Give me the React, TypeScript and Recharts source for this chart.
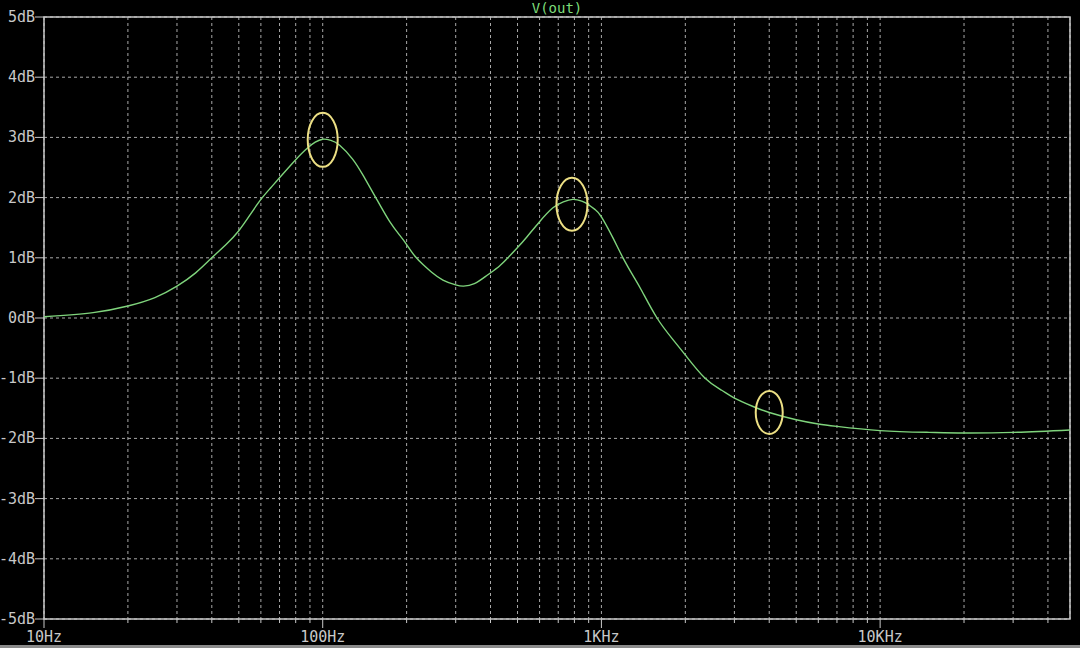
import { LineChart, Line, XAxis, YAxis, CartesianGrid, ReferenceArea, ReferenceDot } from "recharts"

// frequency response (Hz, dB)
const freqHz = [
  10, 15, 20, 25, 30, 35, 40, 45, 50, 55, 60, 65, 70, 80, 88, 94,
  100, 107, 115, 128, 140, 155, 174, 190, 200, 214, 230, 246, 270, 300, 320, 350,
  389, 430, 462, 500, 541, 600, 670, 730, 790, 850, 900, 950,
  1000, 1100, 1195, 1300, 1400, 1583, 1800, 2012, 2355, 2700, 3000, 3500,
  4000, 5000, 6000, 7000, 10000, 15000, 20000, 30000, 48000,
]
const gainDb = [
  0.02, 0.09, 0.2, 0.34, 0.53, 0.75, 1.0, 1.22, 1.45, 1.72, 1.97, 2.16, 2.33, 2.63, 2.82, 2.92,
  2.97, 2.95, 2.87, 2.64, 2.36, 2.0, 1.6, 1.36, 1.22, 1.03, 0.88, 0.76, 0.63, 0.55, 0.53, 0.57,
  0.71, 0.86, 1.0, 1.17, 1.35, 1.6, 1.83, 1.93, 1.97, 1.94, 1.88, 1.8,
  1.68, 1.33, 1.0, 0.7, 0.44, 0.0, -0.35, -0.63, -1.0, -1.2, -1.33, -1.47,
  -1.57, -1.69, -1.76, -1.8, -1.87, -1.9, -1.91, -1.9, -1.86,
]

const xGridTicks = [
  10, 20, 30, 40, 50, 60, 70, 80, 90,
  100, 200, 300, 400, 500, 600, 700, 800, 900,
  1000, 2000, 3000, 4000, 5000, 6000, 7000, 8000, 9000,
  10000, 20000, 30000, 40000,
]
const xMajorTicks = [10, 100, 1000, 10000]
const xMajorLabels = ["10Hz", "100Hz", "1KHz", "10KHz"]
const yTicks = [-5, -4, -3, -2, -1, 0, 1, 2, 3, 4, 5]

// circled points
const markerFreqs = [100, 784, 4000]
const markerDb = [2.96, 1.89, -1.57]
const markerRadii = [[15, 27], [15.5, 26.5], [13.5, 21.5]]

const data = freqHz.map((f, i) => ({ f, db: gainDb[i] }))

const FONT = "'DejaVu Sans Mono', monospace"
const LABEL = "#c8c8c8"

function XTick(props: any) {
  const { x, y, payload } = props
  const idx = xMajorTicks.indexOf(payload.value)
  const major = idx >= 0
  return (
    <g>
      <line x1={x} y1={y} x2={x} y2={y + (major ? 9 : 4)} stroke={LABEL} strokeWidth={1} />
      {major && (
        <text x={x} y={y + 18} textAnchor="middle" dominantBaseline="central"
          fill={LABEL} fontSize={15} fontFamily={FONT}>
          {xMajorLabels[idx]}
        </text>
      )}
    </g>
  )
}

function YTick(props: any) {
  const { x, y, payload } = props
  return (
    <g>
      <line x1={x - 9} y1={y} x2={x} y2={y} stroke={LABEL} strokeWidth={1} />
      <text x={x - 9} y={y} textAnchor="end" dominantBaseline="central"
        fill={LABEL} fontSize={15} fontFamily={FONT}>
        {`${payload.value}dB`}
      </text>
    </g>
  )
}

export default function App() {
  return (
    <div style={{ position: "fixed", left: 0, top: 0, width: 1080, height: 648, background: "#000", overflow: "hidden" }}>
      <div style={{
        position: "absolute", left: 44, top: 0, width: 1026, height: 17, lineHeight: "17px",
        textAlign: "center", color: "#7ddc7a", fontFamily: FONT, fontSize: 14,
      }}>
        V(out)
      </div>
      <LineChart width={1080} height={648} data={data} margin={{ top: 17, right: 10, bottom: 0, left: 0 }}>
        <CartesianGrid stroke="#a8a8a8" strokeDasharray="3 3" strokeWidth={1} />
        <XAxis
          dataKey="f"
          type="number"
          scale="log"
          domain={[10, 48000]}
          allowDataOverflow
          ticks={xGridTicks}
          interval={0}
          height={29}
          tickSize={0}
          tickMargin={0}
          tickLine={false}
          axisLine={false}
          tick={<XTick />}
        />
        <YAxis
          type="number"
          domain={[-5, 5]}
          ticks={yTicks}
          interval={0}
          width={44}
          tickSize={0}
          tickMargin={0}
          tickLine={false}
          axisLine={false}
          tick={<YTick />}
        />
        <ReferenceArea x1={10} x2={48000} y1={-5} y2={5} fill="none" stroke={LABEL} strokeWidth={1.5} ifOverflow="visible" />
        <Line
          type="natural"
          dataKey="db"
          stroke="#7fd47c"
          strokeWidth={1.4}
          dot={false}
          isAnimationActive={false}
        />
        {markerFreqs.map((f, i) => (
          <ReferenceDot
            key={f}
            x={f}
            y={markerDb[i]}
            r={10}
            ifOverflow="visible"
            shape={(p: any) => (
              <ellipse cx={p.cx} cy={p.cy} rx={markerRadii[i][0]} ry={markerRadii[i][1]}
                fill="none" stroke="#ecdf84" strokeWidth={2} />
            )}
          />
        ))}
      </LineChart>
      <div style={{ position: "absolute", left: 0, top: 645, width: 1080, height: 3, background: "#8a8a8a" }} />
    </div>
  )
}
